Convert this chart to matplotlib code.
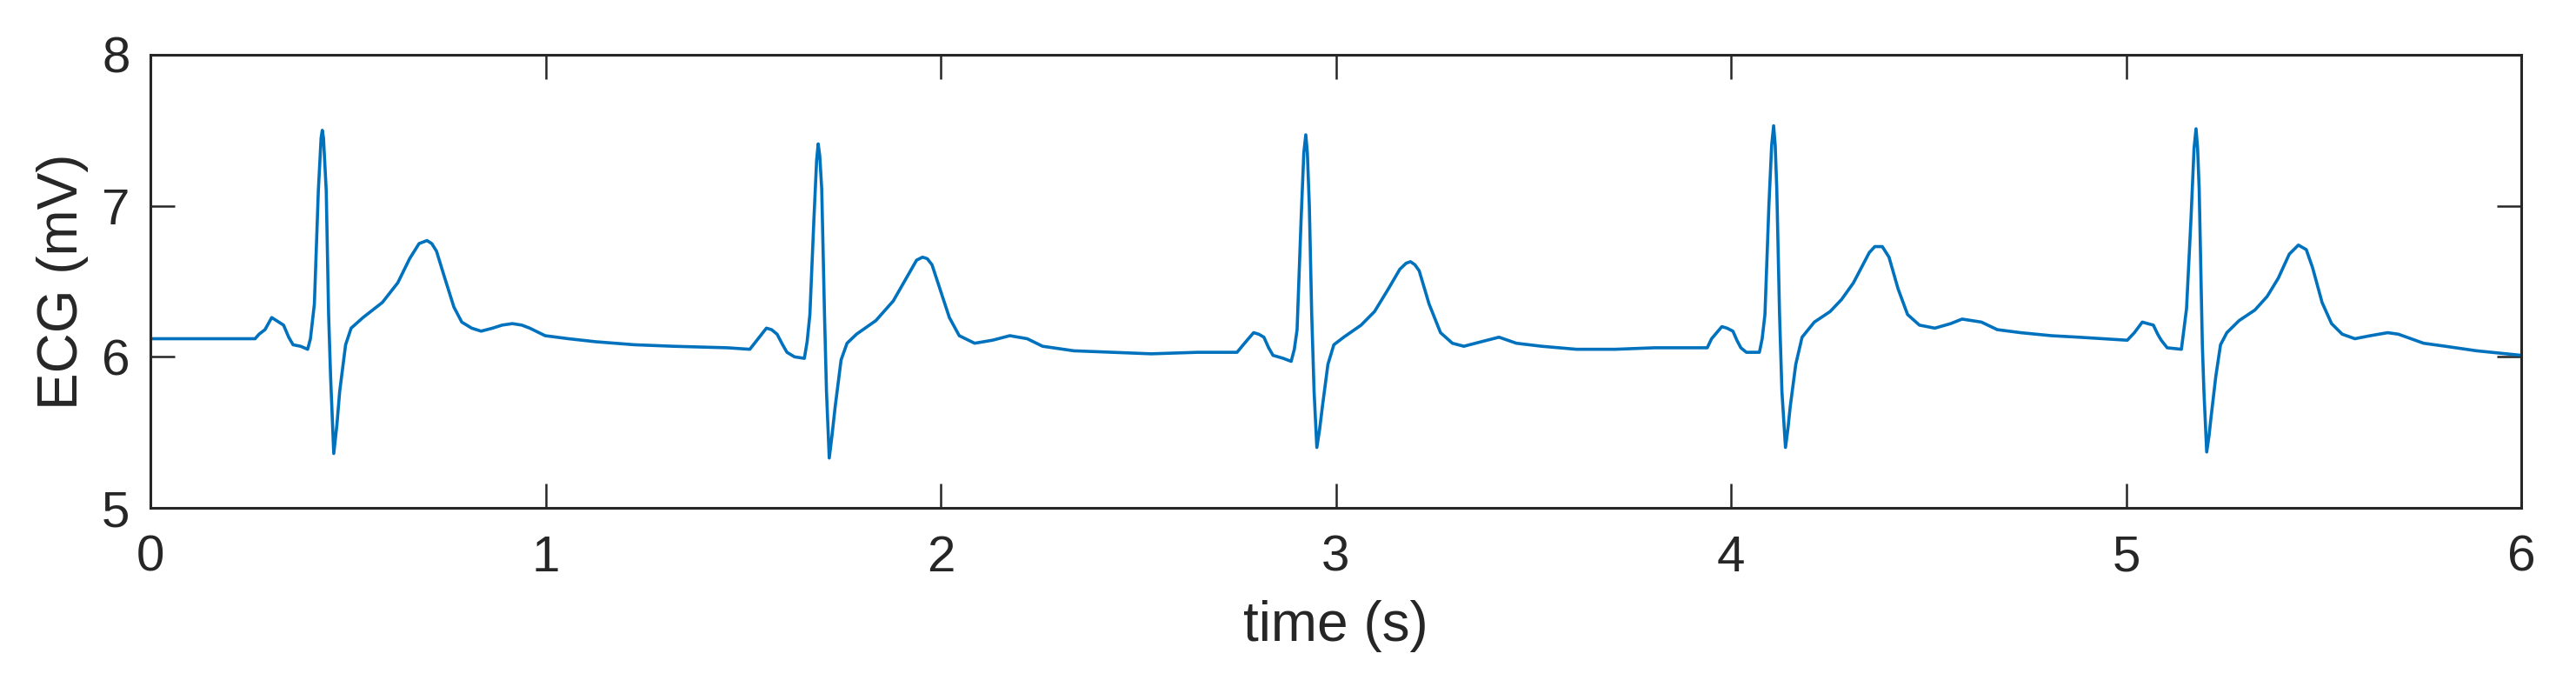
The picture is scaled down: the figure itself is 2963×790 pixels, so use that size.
import matplotlib
matplotlib.use("Agg")
import matplotlib.pyplot as plt
import numpy as np

# ---- data: ECG trace (time in s, voltage in mV) ----
t_beat1 = [0.00, 0.10, 0.20, 0.265, 0.275, 0.29, 0.307, 0.325, 0.337, 0.35, 0.361, 0.38, 0.398,
           0.405, 0.415, 0.425, 0.432, 0.435, 0.438, 0.445, 0.451, 0.456, 0.464, 0.472, 0.479,
           0.494, 0.508, 0.538, 0.587, 0.626, 0.656, 0.680, 0.700, 0.712, 0.724, 0.744, 0.768,
           0.788, 0.813, 0.837, 0.866, 0.89, 0.916, 0.94, 0.960, 0.999, 1.058, 1.127, 1.225,
           1.323, 1.46]
v_beat1 = [6.12, 6.12, 6.12, 6.12, 6.15, 6.18, 6.26, 6.23, 6.21, 6.13, 6.08, 6.07, 6.05,
           6.12, 6.35, 7.10, 7.45, 7.50, 7.45, 7.10, 6.28, 5.87, 5.36, 5.55, 5.77,
           6.08, 6.19, 6.26, 6.36, 6.49, 6.65, 6.75, 6.77, 6.75, 6.70, 6.53, 6.33,
           6.23, 6.19, 6.17, 6.19, 6.21, 6.22, 6.21, 6.19, 6.14, 6.12, 6.10, 6.08,
           6.07, 6.06]

t_beat2 = [1.517, 1.532, 1.559, 1.572, 1.586, 1.600, 1.611, 1.630, 1.655, 1.662, 1.669, 1.679,
           1.686, 1.690, 1.694, 1.699, 1.706, 1.711, 1.718, 1.725, 1.733, 1.748, 1.763, 1.787,
           1.836, 1.880, 1.915, 1.939, 1.954, 1.966, 1.978, 1.998, 2.022, 2.047, 2.086, 2.131,
           2.175, 2.219, 2.258, 2.337, 2.435, 2.533, 2.65, 2.750]
v_beat2 = [6.05, 6.10, 6.19, 6.18, 6.15, 6.08, 6.03, 6.00, 5.99, 6.10, 6.28, 6.90,
           7.30, 7.41, 7.33, 7.11, 6.28, 5.77, 5.33, 5.48, 5.67, 5.98, 6.09, 6.15,
           6.24, 6.37, 6.53, 6.64, 6.66, 6.65, 6.61, 6.45, 6.26, 6.14, 6.09, 6.11,
           6.14, 6.12, 6.07, 6.04, 6.03, 6.02, 6.03, 6.03]

t_beat3 = [2.769, 2.792, 2.805, 2.818, 2.830, 2.841, 2.867, 2.887, 2.895, 2.902, 2.912, 2.919,
           2.924, 2.928, 2.933, 2.939, 2.945, 2.952, 2.959, 2.966, 2.980, 2.995, 3.020, 3.064,
           3.098, 3.133, 3.162, 3.178, 3.189, 3.200, 3.211, 3.236, 3.265, 3.295, 3.324, 3.368,
           3.413, 3.457, 3.521, 3.609, 3.707, 3.806, 3.940]
v_beat3 = [6.09, 6.16, 6.15, 6.13, 6.06, 6.01, 5.99, 5.97, 6.05, 6.18, 6.90, 7.35,
           7.47, 7.35, 7.00, 6.28, 5.77, 5.40, 5.52, 5.67, 5.95, 6.08, 6.13, 6.21,
           6.30, 6.45, 6.58, 6.62, 6.63, 6.61, 6.57, 6.35, 6.16, 6.09, 6.07, 6.10,
           6.13, 6.09, 6.07, 6.05, 6.05, 6.06, 6.06]

t_beat4 = [3.951, 3.977, 3.990, 4.005, 4.015, 4.025, 4.039, 4.072, 4.079, 4.086, 4.096, 4.103,
           4.108, 4.112, 4.116, 4.123, 4.129, 4.138, 4.144, 4.150, 4.164, 4.180, 4.211, 4.251,
           4.280, 4.310, 4.334, 4.350, 4.364, 4.383, 4.400, 4.423, 4.447, 4.477, 4.516, 4.556,
           4.585, 4.634, 4.674, 4.733, 4.811, 4.880, 5.003]
v_beat4 = [6.12, 6.20, 6.19, 6.17, 6.11, 6.06, 6.03, 6.03, 6.12, 6.28, 7.00, 7.40,
           7.53, 7.40, 7.11, 6.28, 5.77, 5.40, 5.52, 5.67, 5.95, 6.13, 6.23, 6.30,
           6.38, 6.49, 6.61, 6.69, 6.73, 6.73, 6.66, 6.45, 6.28, 6.21, 6.19, 6.22,
           6.25, 6.23, 6.18, 6.16, 6.14, 6.13, 6.11]

t_beat5 = [5.021, 5.041, 5.055, 5.069, 5.080, 5.089, 5.104, 5.140, 5.153, 5.164, 5.172, 5.177,
           5.181, 5.185, 5.193, 5.197, 5.204, 5.210, 5.215, 5.227, 5.239, 5.255, 5.286, 5.326,
           5.357, 5.385, 5.413, 5.436, 5.456, 5.472, 5.496, 5.520, 5.547, 5.579, 5.618, 5.662,
           5.689, 5.721, 5.753, 5.808, 5.887, 6.000]
v_beat5 = [6.16, 6.23, 6.22, 6.21, 6.15, 6.11, 6.06, 6.05, 6.32, 6.90, 7.38, 7.51,
           7.38, 7.11, 6.08, 5.77, 5.37, 5.48, 5.60, 5.87, 6.08, 6.16, 6.24, 6.31,
           6.40, 6.52, 6.68, 6.74, 6.71, 6.59, 6.36, 6.22, 6.15, 6.12, 6.14, 6.16,
           6.15, 6.12, 6.09, 6.07, 6.04, 6.01]

x_ticks = [0, 1, 2, 3, 4, 5, 6]
y_ticks = [5, 6, 7, 8]
x_label = "time (s)"
y_label = "ECG (mV)"

# ---- assemble ----
time = np.concatenate([t_beat1, t_beat2, t_beat3, t_beat4, t_beat5])
ecg = np.concatenate([v_beat1, v_beat2, v_beat3, v_beat4, v_beat5])

plt.rcParams['font.family'] = ['Liberation Sans', 'DejaVu Sans']
text_color = '#262626'

W, H, DPI = 2963, 790, 100
fig = plt.figure(figsize=(W / DPI, H / DPI), dpi=DPI)
left, right, top, bottom = 173, 2900, 63, 584
ax = fig.add_axes([left / W, (H - bottom) / H, (right - left) / W, (bottom - top) / H])

ax.plot(time, ecg, color='#0072BD', linewidth=2.6, solid_joinstyle='round')

ax.set_xlim(0, 6)
ax.set_ylim(5, 8)
ax.set_xticks(x_ticks)
ax.set_yticks(y_ticks)
ax.set_xticklabels([str(v) for v in x_ticks])
ax.set_yticklabels([str(v) for v in y_ticks])

for s in ax.spines.values():
    s.set_linewidth(2.2)
    s.set_color(text_color)

ax.tick_params(axis='both', which='major', direction='in', length=20, width=1.8,
               color=text_color, labelcolor=text_color, labelsize=42,
               top=True, right=True)
ax.tick_params(axis='x', pad=22)
ax.tick_params(axis='y', pad=17)

ax.set_xlabel(x_label, fontsize=46, color=text_color)
ax.set_ylabel(y_label, fontsize=46, color=text_color)
ax.xaxis.set_label_coords(0.5, (bottom - 690) / (bottom - top))
ax.yaxis.set_label_coords((102 - left) / (right - left), 0.5)

fig.savefig("out.png", dpi=DPI, facecolor='white')
